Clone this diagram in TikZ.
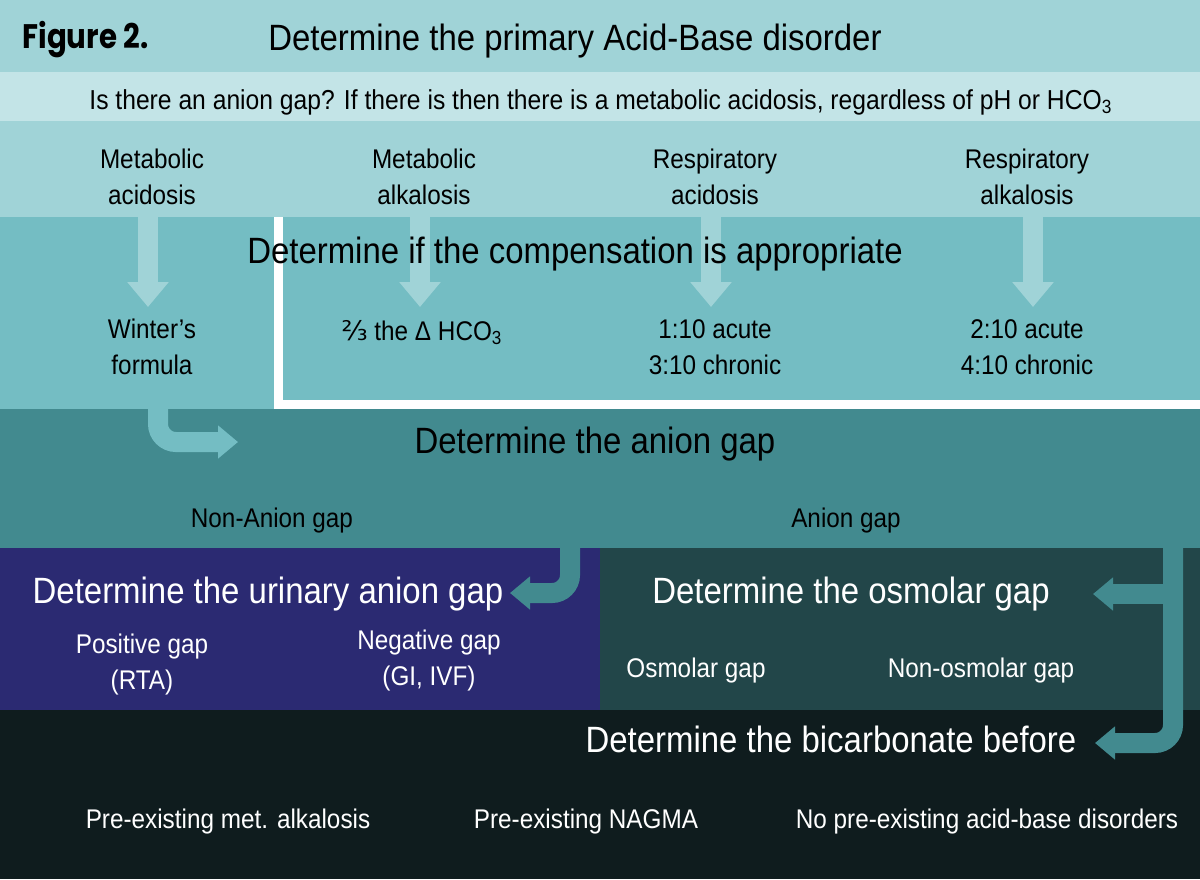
\documentclass[tikz,border=0pt]{standalone}
\usepackage{fontspec}
\setmainfont{Liberation Sans}[FakeStretch=0.9]
\newfontfamily\figfont{Poppins}[FakeStretch=0.86]
\newfontfamily\symfont{DejaVu Sans}
\usetikzlibrary{arrows.meta}

\definecolor{bandpale}{HTML}{A0D3D7}
\definecolor{bandlight}{HTML}{C3E4E7}
\definecolor{bandmid}{HTML}{74BDC3}
\definecolor{banddeep}{HTML}{428A8F}
\definecolor{bandindigo}{HTML}{2B2A72}
\definecolor{bandslate}{HTML}{224649}
\definecolor{bandnight}{HTML}{0F1C1E}

\begin{document}
\begin{tikzpicture}[x=0.5pt, y=-0.5pt,
  lbl/.style={font=\fontsize{13.5}{18}\selectfont, align=center, inner sep=0pt},
  onebase/.style={font=\fontsize{13.5}{18}\selectfont, anchor=base, inner sep=0pt},
  ttl/.style={font=\fontsize{18.3}{22}\selectfont, anchor=base, inner sep=0pt},
  fatdown/.style={draw=bandpale, line width=10pt, -{Triangle[length=12.5pt, width=20pt]}},
  fatbend/.style={line width=10pt, rounded corners=9pt, -{Triangle[length=10pt, width=16pt]}},
]
\useasboundingbox (0,0) rectangle (1200,879);

% colour bands
\fill[bandpale]   (0,0)     rectangle (1200,72);
\fill[bandlight]  (0,72)    rectangle (1200,121);
\fill[bandpale]   (0,121)   rectangle (1200,217);
\fill[bandmid]    (0,217)   rectangle (1200,409);
\fill[banddeep]   (0,409)   rectangle (1200,548);
\fill[bandindigo] (0,548)   rectangle (600,710);
\fill[bandslate]  (600,548) rectangle (1200,710);
\fill[bandnight]  (0,710)   rectangle (1200,879);

% arrow ends
\coordinate (metacid-out)   at (148,216);
\coordinate (metacid-in)    at (148,307);
\coordinate (metalk-out)    at (420,216);
\coordinate (metalk-in)     at (420,307);
\coordinate (respacid-out)  at (711,216);
\coordinate (respacid-in)   at (711,307);
\coordinate (respalk-out)   at (1033,216);
\coordinate (respalk-in)    at (1033,307);
\coordinate (winters-out)   at (158,405);
\coordinate (winters-in)    at (238,442);
\coordinate (nonanion-out)  at (570,545);
\coordinate (urinary-in)    at (510,593);
\coordinate (anion-out)     at (1173,545);
\coordinate (branch)        at (1173,594);
\coordinate (osmolar-in)    at (1093,594);
\coordinate (bicarb-in)     at (1095,743);

\draw[fatdown] (metacid-out) -- (metacid-in);
\draw[fatdown] (metalk-out) -- (metalk-in);
\draw[fatdown] (respacid-out) -- (respacid-in);
\draw[fatdown] (respalk-out) -- (respalk-in);
\draw[fatbend, draw=bandmid] (winters-out) |- (winters-in);
\draw[fatbend, draw=banddeep] (nonanion-out) |- (urinary-in);
\draw[fatbend, draw=banddeep] (anion-out) |- (bicarb-in);
\draw[fatbend, draw=banddeep] (branch) -- (osmolar-in);

% white frame round the compensation rules
\draw[white, line width=4.5pt] (278,217) -- (278,404.5) -- (1200,404.5);

% step 1
\node[anchor=base west, inner sep=0pt, font=\figfont\bfseries\fontsize{17}{20}\selectfont] (fig) at (22,48) {Figure 2.};
\node[ttl] (primary) at (575,50) {Determine the primary Acid-Base disorder};
\node[anchor=base, inner sep=0pt, font=\fontsize{13.7}{18}\selectfont] (gapq) at (601,109)
  {Is there an anion gap? If there is then there is a metabolic acidosis, regardless of pH or HCO\textsubscript{3}};
\node[lbl] (metacid)  at (152,177) {Metabolic\\acidosis};
\node[lbl] (metalk)   at (424,177) {Metabolic\\alkalosis};
\node[lbl] (respacid) at (715,177) {Respiratory\\acidosis};
\node[lbl] (respalk)  at (1027,177) {Respiratory\\alkalosis};

% step 2
\node[ttl] (comp) at (575,263) {Determine if the compensation is appropriate};
\node[lbl] (winters)     at (152,347) {Winter’s\\formula};
\node[onebase] (twothirds) at (422,340) {{\symfont ⅔} the Δ HCO\textsubscript{3}};
\node[lbl] (respacidcomp) at (715,347) {1:10 acute\\3:10 chronic};
\node[lbl] (respalkcomp)  at (1027,347) {2:10 acute\\4:10 chronic};

% step 3
\node[ttl] (aniongap) at (595,453) {Determine the anion gap};
\node[onebase] (nonanion) at (272,527) {Non-Anion gap};
\node[onebase] (anion)    at (846,527) {Anion gap};

% step 4
\begin{scope}[white]
\node[ttl, text=white] (urinary) at (268,603) {Determine the urinary anion gap};
\node[lbl, text=white] (posgap)  at (142,665) {Positive gap\\(RTA)};
\node[lbl, text=white] (neggap)  at (429,661) {Negative gap\\(GI, IVF)};
\node[ttl, text=white] (osmolar) at (851,603) {Determine the osmolar gap};
\node[onebase, text=white] (osmgap)    at (696,677) {Osmolar gap};
\node[onebase, text=white] (nonosmgap) at (981,677) {Non-osmolar gap};

% step 5
\node[ttl, text=white] (bicarb) at (831,752) {Determine the bicarbonate before};
\node[onebase, text=white] (premetalk) at (228,828) {Pre-existing met. alkalosis};
\node[onebase, text=white] (prenagma)  at (586,828) {Pre-existing NAGMA};
\node[onebase, text=white] (nopre)     at (987,828) {No pre-existing acid-base disorders};
\end{scope}
\end{tikzpicture}
\end{document}
